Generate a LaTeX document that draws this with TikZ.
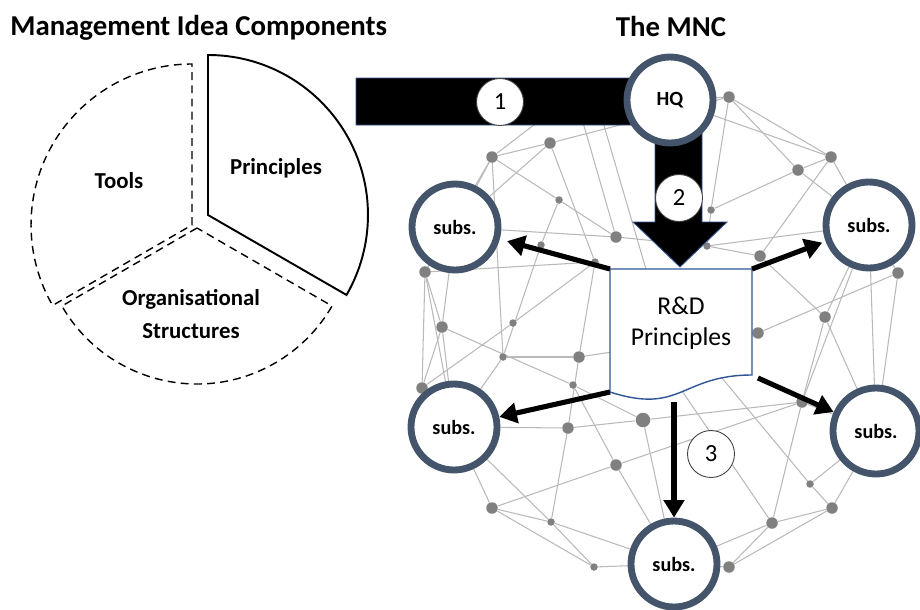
\documentclass[tikz,border=0pt]{standalone}
\usepackage{fontspec}
\setmainfont{Carlito}
\usetikzlibrary{arrows.meta}
\definecolor{slate}{RGB}{68,84,106}
\definecolor{netgray}{RGB}{185,185,185}
\definecolor{dotgray}{RGB}{128,128,128}
\definecolor{docblue}{RGB}{47,85,151}
\pgfdeclarelayer{netlines}
\pgfdeclarelayer{netdots}
\pgfsetlayers{netlines,netdots,main}

\begin{document}
\begin{tikzpicture}[x=0.02cm,y=-0.02cm,
  heading/.style={font=\bfseries\fontsize{16.4}{19}\selectfont, inner sep=0pt},
  slicetext/.style={font=\bfseries\fontsize{13}{15}\selectfont, inner sep=0pt, anchor=base},
  piedash/.style={draw=black, line width=0.8pt, dash pattern=on 4.5pt off 3pt},
  piesolid/.style={draw=black, line width=1.1pt},
  unit/.style={circle, draw=slate, line width=3.9pt, fill=white, minimum size=1.72cm,
    inner sep=0pt, font=\bfseries\fontsize{11.5}{13}\selectfont},
  numcirc/.style={circle, draw=black!75, line width=0.5pt, fill=white,
    minimum size=0.94cm, inner sep=0pt, font=\fontsize{14}{16}\selectfont},
  docshape/.style={draw=docblue, line width=0.8pt, fill=white},
  doctext/.style={align=center, inner sep=0pt, font=\fontsize{14.6}{17.6}\selectfont},
  bigflow/.style={fill=black, draw=docblue, line width=0.5pt},
  flow/.style={line width=2.9pt, -{Triangle[length=10pt,width=11.5pt]}},
  net/.style={draw=netgray, line width=0.6pt},
  dotbig/.style={circle, fill=dotgray, inner sep=0pt, minimum size=0.23cm},
  dotsmall/.style={circle, fill=dotgray, inner sep=0pt, minimum size=0.15cm},
  dotlarge/.style={circle, fill=dotgray, inner sep=0pt, minimum size=0.29cm}]

\useasboundingbox (0,0) rectangle (920,609);

% headings
\node[heading, anchor=base west] (ttlA) at (10,35) {Management Idea Components};
\node[heading, anchor=base] (ttlB) at (671,36) {The MNC};

% exploded pie of the idea components
\draw[piedash] (197,228) -- (61.9,306) arc[start angle=210, end angle=330, radius=3.12cm] -- cycle;
\draw[piedash] (192,225) -- (192,64) arc[start angle=90, end angle=210, radius=3.22cm] -- cycle;
\draw[piesolid] (208,215) -- (208,55) arc[start angle=90, end angle=-30, radius=3.2cm] -- cycle;
\node[slicetext] (lblTools) at (119,188) {Tools};
\node[slicetext] (lblPrin) at (276,174) {Principles};
\node[slicetext] (lblOrgA) at (191,305) {Organisational};
\node[slicetext] (lblOrgB) at (191,338) {Structures};

% bent transfer arrow into HQ and down to the document
\draw[bigflow] (356,78) -- (702,78) -- (702,222) -- (727,222) -- (680,267)
  -- (633,222) -- (655,222) -- (655,125) -- (356,125) -- cycle;

% units of the MNC
\node[unit] (HQ) at (670,100) {HQ};
\node[unit] (UL) at (455,227) {subs.};
\node[unit] (UR) at (869,225) {subs.};
\node[unit] (LL) at (454,427) {subs.};
\node[unit] (LR) at (876,431) {subs.};
\node[unit] (B)  at (674,564) {subs.};

% R&D principles document
\coordinate (docNW) at (610,269);
\coordinate (docNE) at (752,269);
\coordinate (docSE) at (752,375);
\coordinate (docSW) at (610,392);
\draw[docshape] (docNW) -- (docNE) -- (docSE) .. controls (681,375) and (681,415) .. (docSW) -- cycle;
\node[doctext] (doc) at (681,323) {R\&D\\Principles};

% step numbers
\node[numcirc] (k1) at (500,102) {1};
\node[numcirc] (k2) at (679,198) {2};
\node[numcirc] (k3) at (711,454) {3};

% diffusion to the subsidiaries
\coordinate (docE) at (758,378);
\coordinate (docB) at (674,402);
\draw[flow, shorten >=4.3pt] (docNW) -- (UL);
\draw[flow, shorten >=2pt] (docNE) -- (UR);
\draw[flow] (docSW) -- (LL);
\draw[flow] (docE) -- (LR);
\draw[flow] (docB) -- (B);

% background network: nodes
\begin{pgfonlayer}{netdots}
\foreach \n/\x/\y in {1/492/157, 2/550/143, 4/616/237, 6/729/97, 7/831/157, 8/798/170,
    11/760/256, 12/425/272, 13/442/327, 16/579/357, 18/422/388, 20/568/428,
    26/898/273, 27/825/317, 28/758/333, 29/802/402, 32/616/465, 33/492/508,
    37/832/508, 38/772/523, 39/729/567}
  \node[dotbig] (n\n) at (\x,\y) {};
\foreach \n/\x/\y in {3/559/200, 5/541/245, 9/711/210, 10/707/246, 14/513/323,
    15/503/357, 17/573/385, 23/595/262, 34/551/522, 35/594/567, 36/810/484}
  \node[dotsmall] (n\n) at (\x,\y) {};
\node[dotlarge] (n19) at (643,420) {};
\end{pgfonlayer}

% background network: links
\coordinate (h1) at (560,105);
\coordinate (h2) at (578,105);
\coordinate (h3) at (598,105);
\coordinate (hd1) at (655,300);
\coordinate (hd2) at (690,340);
\coordinate (hd3) at (680,388);
\coordinate (hd4) at (717,372);
\begin{pgfonlayer}{netlines}
\foreach \a/\b in {n1/n2, n2/n6, n1/n3, n3/n4, n1/UL, n1/n12, n1/n15, n2/n23, n2/UL,
    n3/n5, h1/n1, h2/n4, h3/hd1, n4/n10, n4/UL, n5/n15, n6/n7, n6/n8, n6/n9, n6/HQ,
    HQ/n7, n7/n8, n7/UR, n7/n11, n8/n9, n8/UR, n9/n10, n10/UR, n10/n11, n11/n27,
    n27/UR, n27/LR, n27/n29, n28/n26, hd2/n28, n26/UR, n26/LR, UR/LR, UR/n29,
    n29/LR, n12/n13, n12/n18, n12/LL, n13/n18, n13/LL, n13/UL, n13/n17, n12/n23,
    n14/n18, n14/n23, n15/n16, n16/hd2, n15/LL, n16/n23, n16/n20, n17/n19, n17/n32,
    n20/n19, n20/LL, n20/n34, n19/n29, n19/B, n32/n33, n32/n29, n32/B, n33/LL,
    n34/LL, n34/n35, n33/n34, n34/B, n33/n35, n35/B, n38/B, n39/B, n38/n39,
    n38/n37, n39/n37, n37/LR, n36/LR, n36/n37, n38/n29, n38/hd3, n36/hd4, n18/LL}
  \draw[net] (\a) -- (\b);
\end{pgfonlayer}
\end{tikzpicture}
\end{document}
